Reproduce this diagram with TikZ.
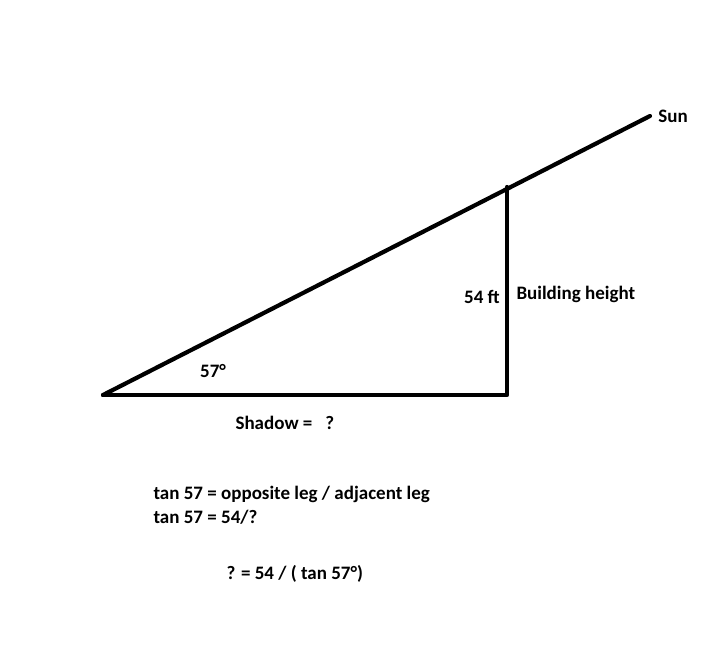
\documentclass[tikz,border=0pt]{standalone}
\usepackage{fontspec}
\setmainfont{Carlito}
\begin{document}
\begin{tikzpicture}[x=1pt,y=-1pt,font=\fontsize{19}{22}\selectfont\bfseries,
    leg/.style={line width=4.2pt,line cap=round,line join=round}]
                \useasboundingbox (0,0) rectangle (720,647);
                \coordinate (C) at (103,395);
                \coordinate (B) at (507,395);
                \coordinate (A) at (507,187);
                \coordinate (S) at (650,116);
                \draw[leg] (C) -- (B) -- (A);
                \draw[leg] (C) -- (S);
                \node (sun) at (673,116) {Sun};
                \node (ht) at (482,297) {54 ft};
                \node[anchor=west] (bh) at (513,294) {Building height};
                \node (ang) at (213,371) {57°};
                \node[anchor=west] (sh) at (232,423) {Shadow =\ \ \ ?};
                \node[anchor=west] (eq1) at (150,494) {tan 57 = opposite leg / adjacent leg};
                \node[anchor=west] (eq2) at (150,517) {tan 57 = 54/?};
                \node[anchor=west] (eq3) at (223,574) {? = 54 / ( tan 57°)};
            \end{tikzpicture}
\end{document}
